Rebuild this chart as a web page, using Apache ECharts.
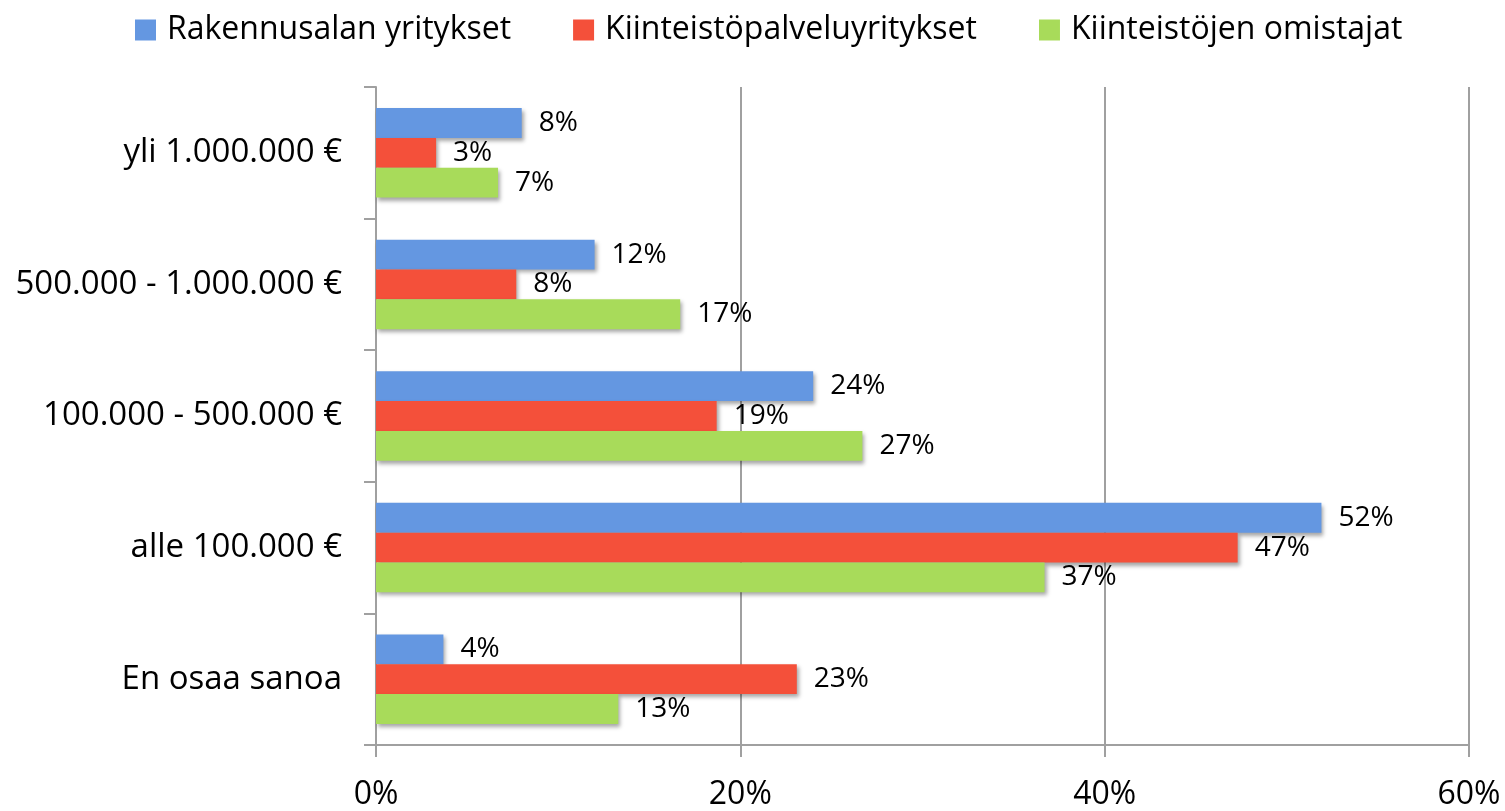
<!DOCTYPE html>
<html>
<head>
<meta charset="utf-8">
<script src="https://cdn.jsdelivr.net/npm/echarts@6/dist/echarts.min.js"></script>
<style>
html,body{margin:0;padding:0;background:#fff;}
#chart{width:1505px;height:811px;}
</style>
</head>
<body>
<div id="chart"></div>
<script>
const categories = ['yli 1.000.000 €', '500.000 - 1.000.000 €', '100.000 - 500.000 €', 'alle 100.000 €', 'En osaa sanoa'];
const seriesNames = ['Rakennusalan yritykset', 'Kiinteistöpalveluyritykset', 'Kiinteistöjen omistajat'];
const rakennus = [8.0, 12.0, 24.0, 51.9, 3.7];
const palvelu = [3.3, 7.7, 18.7, 47.3, 23.1];
const omistajat = [6.7, 16.7, 26.7, 36.7, 13.3];
const xTicks = [0, 20, 40, 60];
const colors = ['#6497E1', '#F4503A', '#A8DB5A'];

const FONT = 'Open Sans';
const chart = echarts.init(document.getElementById('chart'));
const mk = (name, data, color) => ({
  name: name,
  type: 'bar',
  data: data,
  barGap: '0%',
  barCategoryGap: '32%',
  itemStyle: {
    color: color,
    shadowColor: 'rgba(0,0,0,0.35)',
    shadowBlur: 4,
    shadowOffsetX: 2,
    shadowOffsetY: 3
  },
  label: {
    show: true,
    position: 'right',
    distance: 17,
    formatter: p => Math.round(p.value) + '%',
    fontFamily: FONT,
    fontSize: 28,
    color: '#000'
  }
});
chart.setOption({
  animation: false,
  color: colors,
  legend: {
    data: seriesNames,
    left: 130,
    top: 9,
    icon: 'rect',
    itemWidth: 21,
    itemHeight: 21,
    itemGap: 62,
    textStyle: {fontFamily: FONT, fontSize: 32, color: '#000', padding: [0, 0, 0, 6]}
  },
  grid: {left: 376, right: 36, top: 87, bottom: 64, containLabel: false},
  xAxis: {
    type: 'value',
    min: xTicks[0],
    max: xTicks[xTicks.length - 1],
    interval: 20,
    axisLine: {show: true, lineStyle: {color: '#A0A0A0', width: 2}},
    axisTick: {show: true, length: 12, lineStyle: {color: '#A0A0A0', width: 2}},
    splitLine: {show: true, lineStyle: {color: '#A0A0A0', width: 2}},
    axisLabel: {
      formatter: v => v + '%',
      fontFamily: FONT, fontSize: 32, color: '#000', margin: 34
    }
  },
  yAxis: {
    type: 'category',
    inverse: true,
    data: categories,
    axisLine: {show: true, lineStyle: {color: '#A0A0A0', width: 2}},
    axisTick: {show: true, length: 12, alignWithLabel: false, lineStyle: {color: '#A0A0A0', width: 2}},
    axisLabel: {fontFamily: FONT, fontSize: 33, color: '#000', margin: 34}
  },
  series: [
    mk(seriesNames[0], rakennus, colors[0]),
    mk(seriesNames[1], palvelu, colors[1]),
    mk(seriesNames[2], omistajat, colors[2])
  ]
});
</script>
</body>
</html>
